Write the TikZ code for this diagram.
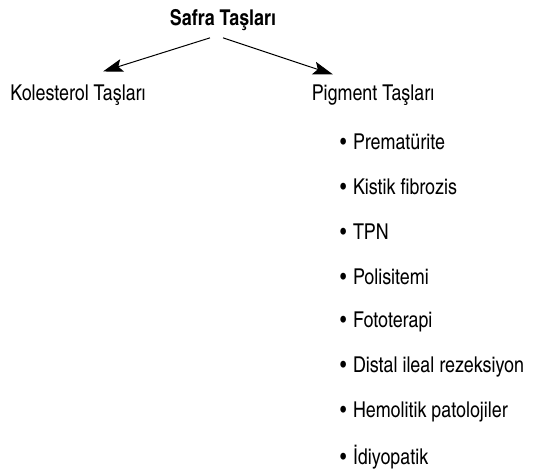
\documentclass[tikz,border=0pt]{standalone}
\usepackage{fontspec}
\setmainfont{TeX Gyre Heros Cn}
\usetikzlibrary{positioning,calc,arrows.meta}
\tikzset{
    title/.style = {font=\fontsize{21.8}{24}\selectfont\bfseries, inner sep=1pt},
    leaf/.style = {font=\fontsize{21.8}{24}\selectfont, inner sep=1pt},
    item/.style = {font=\fontsize{21.8}{24}\selectfont, inner sep=1pt, anchor=west},
    arrow/.style = {draw, line width=1pt, -{Stealth[length=20pt,width=13pt,inset=4pt]}}
}

\begin{document}
\begin{tikzpicture}[x=1pt, y=1pt]
        \useasboundingbox (0,0) rectangle (535,-470);
        \node [title, name=safra] at (223,-20) {Safra Taşları};
        \node [leaf, name=kolesterol] at (78,-95) {Kolesterol Taşları};
        \node [leaf, name=pigment] at (373,-95) {Pigment Taşları};
        \coordinate (kolstart) at ($(safra.south)+(-13,-6)$);
        \coordinate (pigstart) at ($(safra.south)+(0,-6)$);
        \coordinate (kolend) at ($(kolesterol.north)+(25,12)$);
        \coordinate (pigend) at ($(pigment.north)+(-40,9)$);
        \draw [arrow] (kolstart) -- (kolend);
        \draw [arrow] (pigstart) -- (pigend);
        % pigment causes
        \foreach \t [count=\i] in {Prematürite, Kistik fibrozis, TPN, Polisitemi,
                Fototerapi, Distal ileal rezeksiyon, Hemolitik patolojiler, İdiyopatik}{
            \node [item, name=item\i] at (339,-142-45*\i+45) {\textbullet\hspace{0.3em}\t};
        }
\end{tikzpicture}
\end{document}
